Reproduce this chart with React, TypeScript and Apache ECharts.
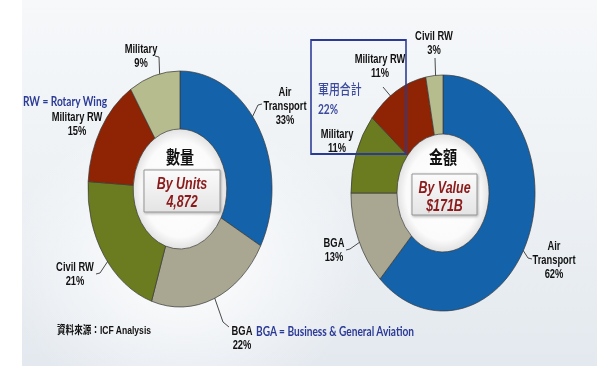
import React, { useEffect, useRef } from 'react';
import * as echarts from 'echarts';

// ---- data ----
const unitCategories = ['Air Transport', 'BGA', 'Civil RW', 'Military RW', 'Military'];
const unitShares = [33, 22, 21, 15, 9];
const valueCategories = ['Air Transport', 'BGA', 'Military', 'Military RW', 'Civil RW'];
const valueShares = [62, 13, 11, 11, 3];
const unitTitle = '數量';
const valueTitle = '金額';
const unitCaption = 'By Units';
const valueCaption = 'By Value';
const unitTotal = '4,872';
const valueTotal = '$171B';
const militaryTitle = '軍用合計';
const militaryTotal = '22%';

// ---- styles / layout ----
const unitColors = ['#1462aa', '#a9a792', '#6b7b1f', '#8e2404', '#b6bc8e'];
const valueColors = ['#1462aa', '#a9a792', '#6b7b1f', '#8e2404', '#b6bc8e'];
const S = 0.78; // horizontal squeeze of the original picture
const W = Math.round(600 / S);
const u = (x: number) => x / S;

const LEFT = { cx: 180, cy: 189, r0: 60, r: 118 };
const RIGHT = { cx: 443, cy: 193, r0: 59, r: 118 };

type Pos = { x: number; y: number; elbow?: number[]; end?: number[] };
const leftPos: Pos[] = [
  { x: 285, y: 106, elbow: [258, 105], end: [262, 104] },
  { x: 242, y: 338, elbow: [223, 322], end: [229, 327] },
  { x: 75, y: 274, elbow: [100, 273], end: [96, 274] },
  { x: 77, y: 124 },
  { x: 141, y: 56, elbow: [159, 57], end: [155, 56] },
];
const rightPos: Pos[] = [
  { x: 554, y: 260, elbow: [528, 258], end: [532, 259] },
  { x: 334, y: 250, elbow: [350, 249], end: [346, 250] },
  { x: 337, y: 141 },
  { x: 380, y: 66, elbow: [383, 87], end: [383, 87] },
  { x: 434, y: 43, elbow: [435, 58], end: [435, 58] },
];

const makeLayout = (shares: number[], geo: typeof LEFT, pos: Pos[]) => (params: any) => {
  const i = params.dataIndex;
  const total = shares.reduce((a, b) => a + b, 0);
  let cum = 0;
  for (let k = 0; k < i; k++) cum += shares[k];
  const mid = ((cum + shares[i] / 2) / total) * Math.PI * 2;
  const rm = (geo.r0 + geo.r) / 2;
  const sx = u(geo.cx) + Math.sin(mid) * rm;
  const sy = geo.cy - Math.cos(mid) * rm;
  const p = pos[i];
  const pts = p.elbow
    ? [[sx, sy], [u(p.elbow[0]), p.elbow[1]], [u(p.end![0]), p.end![1]]]
    : [[sx, sy], [sx, sy], [sx, sy]];
  return { x: u(p.x), y: p.y, align: 'center', verticalAlign: 'middle', labelLinePoints: pts };
};

const labelFmt = (p: any) =>
  (p.name === 'Air Transport' ? 'Air\nTransport' : p.name) + '\n' + p.value + '%';

const ringSeries = (cats: string[], vals: number[], colors: string[], geo: typeof LEFT, pos: Pos[]) => ({
  type: 'pie',
  center: [u(geo.cx), geo.cy],
  radius: [geo.r0, geo.r],
  startAngle: 90,
  clockwise: true,
  avoidLabelOverlap: false,
  silent: true,
  data: cats.map((c, i) => ({ name: c, value: vals[i], itemStyle: { color: colors[i] } })),
  itemStyle: { borderColor: '#3a3a3a', borderWidth: 0.8 },
  label: {
    show: true,
    position: 'outside',
    formatter: labelFmt,
    fontSize: 12,
    fontWeight: 'bold',
    lineHeight: 14,
    color: '#111',
    fontFamily: 'Liberation Sans, Arial, sans-serif',
    align: 'center',
  },
  labelLine: { show: true, length: 10, length2: 5, lineStyle: { color: '#333', width: 1 } },
  labelLayout: makeLayout(vals, geo, pos),
});

const holeSeries = (geo: typeof LEFT) => ({
  type: 'pie',
  center: [u(geo.cx), geo.cy],
  radius: [0, geo.r0],
  silent: true,
  label: { show: false },
  labelLine: { show: false },
  data: [
    {
      value: 1,
      itemStyle: {
        color: new echarts.graphic.RadialGradient(0.5, 0.5, 0.5, [
          { offset: 0, color: '#ffffff' },
          { offset: 0.8, color: '#fbfbfb' },
          { offset: 1, color: '#e2e2e2' },
        ]),
      },
    },
  ],
});

const centerBlock = (title: string, caption: string, total: string, cx: number, titleY: number, box: number[]) => {
  const [x1, y1, x2, y2] = box;
  const bx = (x1 + x2) / 2;
  return [
    {
      type: 'text', z: 20, x: u(cx), y: titleY,
      style: { text: title, fontSize: 18, fontWeight: 'bold', fill: '#111', align: 'center', verticalAlign: 'middle', fontFamily: 'Noto Sans CJK TC, sans-serif' },
    },
    {
      type: 'rect', z: 20,
      shape: { x: u(x1), y: y1, width: u(x2) - u(x1), height: y2 - y1 },
      style: {
        fill: new echarts.graphic.LinearGradient(0, 0, 0, 1, [
          { offset: 0, color: '#fbfbfb' },
          { offset: 1, color: '#e4e4e4' },
        ]),
        stroke: '#8a8a8a', lineWidth: 1,
        shadowBlur: 3, shadowColor: 'rgba(0,0,0,0.35)', shadowOffsetX: 1, shadowOffsetY: 1,
      },
    },
    {
      type: 'text', z: 21, x: u(bx), y: y1 + (y2 - y1) * 0.32,
      style: { text: caption, fontSize: 16, fontWeight: 'bold', fontStyle: 'italic', fill: '#8b1a1a', align: 'center', verticalAlign: 'middle', fontFamily: 'Liberation Sans, Arial, sans-serif' },
    },
    {
      type: 'text', z: 21, x: u(bx), y: y1 + (y2 - y1) * 0.76,
      style: { text: total, fontSize: 16, fontWeight: 'bold', fontStyle: 'italic', fill: '#8b1a1a', align: 'center', verticalAlign: 'middle', fontFamily: 'Liberation Sans, Arial, sans-serif' },
    },
  ];
};

export default function App() {
  const ref = useRef<HTMLDivElement>(null);
  useEffect(() => {
    if (!ref.current) return;
    const chart = echarts.init(ref.current, undefined, { renderer: 'svg' });
    const blue = '#2b3a96';
    const noteFont = 'Lato, Liberation Sans, Arial, sans-serif';
    chart.setOption({
      animation: false,
      backgroundColor: 'transparent',
      series: [
        holeSeries(LEFT),
        holeSeries(RIGHT),
        ringSeries(unitCategories, unitShares, unitColors, LEFT, leftPos),
        ringSeries(valueCategories, valueShares, valueColors, RIGHT, rightPos),
      ],
      graphic: [
        ...centerBlock(unitTitle, unitCaption, unitTotal, 180, 156, [144, 170, 220, 212]),
        ...centerBlock(valueTitle, valueCaption, valueTotal, 443, 156, [412, 174, 477, 215]),
        {
          type: 'rect', z: 30,
          shape: { x: u(311), y: 40, width: u(406) - u(311), height: 114 },
          style: { fill: 'none', stroke: blue, lineWidth: 2 },
        },
        {
          type: 'text', z: 30, x: u(318), y: 88,
          style: { text: militaryTitle, fontSize: 14, fontWeight: 500, fill: '#3b4a9e', align: 'left', verticalAlign: 'middle', fontFamily: 'Noto Sans CJK TC, sans-serif' },
        },
        {
          type: 'text', z: 30, x: u(318), y: 109,
          style: { text: militaryTotal, fontSize: 13, fontWeight: 'bold', fill: '#3b4a9e', align: 'left', verticalAlign: 'middle', fontFamily: noteFont },
        },
        {
          type: 'text', z: 30, x: u(23), y: 101,
          style: { text: 'RW = Rotary Wing', fontSize: 13, fontWeight: 'bold', fill: blue, align: 'left', verticalAlign: 'middle', fontFamily: noteFont },
        },
        {
          type: 'text', z: 30, x: u(256), y: 331,
          style: { text: 'BGA = Business & General Aviation', fontSize: 13, fontWeight: 'bold', fill: blue, align: 'left', verticalAlign: 'middle', fontFamily: noteFont },
        },
        {
          type: 'text', z: 30, x: u(57), y: 330,
          style: { text: '資料來源：ICF Analysis', fontSize: 11, fontWeight: 'bold', fill: '#111', align: 'left', verticalAlign: 'middle', fontFamily: 'Liberation Sans, Noto Sans CJK TC, sans-serif' },
        },
      ],
    });
    return () => chart.dispose();
  }, []);

  return (
    <div style={{ position: 'fixed', left: 0, top: 0, width: 600, height: 373, background: '#ffffff', overflow: 'hidden' }}>
      <div
        style={{
          position: 'absolute', left: 22, top: 0, width: 575, height: 366,
          background:
            'radial-gradient(ellipse 180px 150px at 28% 72%, rgba(255,255,255,0.95) 0%, rgba(255,255,255,0) 100%), linear-gradient(180deg, #f6f8fa 0%, #eef2f5 45%, #e4e9ef 100%)',
        }}
      />
      <div
        ref={ref}
        style={{ position: 'absolute', left: 0, top: 0, width: W, height: 373, transform: `scaleX(${S})`, transformOrigin: '0 0' }}
      />
    </div>
  );
}
